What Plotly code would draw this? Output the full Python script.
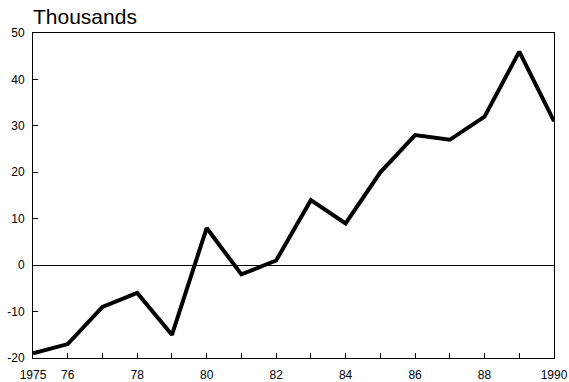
import plotly.graph_objects as go

years = list(range(1975, 1991))
values = [-19, -17, -9, -6, -15, 8, -2, 1, 14, 9, 20, 28, 27, 32, 46, 31]
x_tick_vals = years
x_tick_text = ["1975", "76", "", "78", "", "80", "", "82", "", "84", "", "86", "", "88", "", "1990"]
y_tick_vals = [-20, -10, 0, 10, 20, 30, 40, 50]
y_tick_text = ["-20", "-10", "0", "10", "20", "30", "40", "50"]

fig = go.Figure()
fig.add_trace(go.Scatter(x=years, y=values, mode="lines",
                         line=dict(color="black", width=4), hoverinfo="skip"))

font = dict(family="Liberation Sans, Arial, sans-serif", color="black")
fig.update_layout(
    width=569, height=382,
    margin=dict(l=33, r=15, t=33, b=24),
    paper_bgcolor="white", plot_bgcolor="white",
    showlegend=False,
    font=dict(size=12, **font),
    xaxis=dict(range=[1975, 1990], tickvals=x_tick_vals, ticktext=x_tick_text,
               ticks="inside", ticklen=5, tickcolor="black", tickwidth=1,
               showgrid=False, zeroline=False, showline=True, linecolor="black",
               linewidth=1, mirror=True, tickfont=dict(size=12, **font),
               ticklabelstandoff=6, automargin=False),
    yaxis=dict(range=[-20, 50], tickvals=y_tick_vals, ticktext=y_tick_text,
               ticks="inside", ticklen=5, tickcolor="black", tickwidth=1,
               showgrid=False, zeroline=True, zerolinecolor="black", zerolinewidth=1,
               showline=True, linecolor="black", linewidth=1, mirror=True,
               tickfont=dict(size=12, **font), ticklabelstandoff=5, automargin=False),
    annotations=[dict(text="Thousands", x=0, y=1, xref="paper", yref="paper",
                      xanchor="left", yanchor="bottom", yshift=3, xshift=-2, showarrow=False,
                      font=dict(size=21, **font))],
)
fig.write_html("out.html", config={"displayModeBar": False},
               post_script="document.body.style.margin='0';")
